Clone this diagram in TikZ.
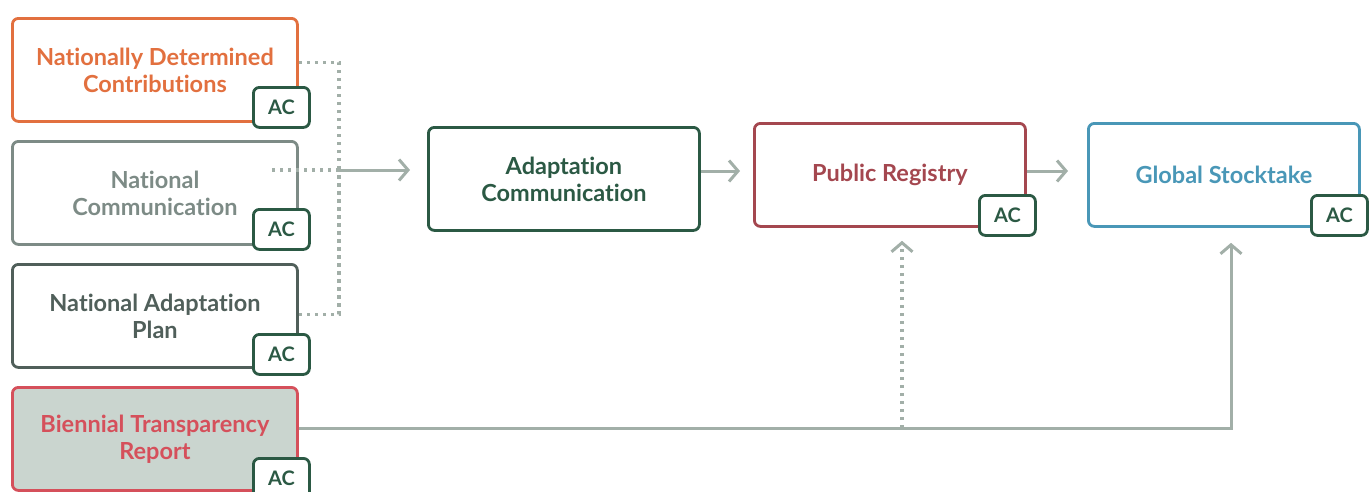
\documentclass[tikz,border=0pt]{standalone}
\usepackage{fontspec}
\setmainfont{Lato}[Ligatures=NoCommon]
\usetikzlibrary{arrows.meta}
\definecolor{ndcc}{HTML}{E2703F}
\definecolor{ncc}{HTML}{7D8B86}
\definecolor{napc}{HTML}{505F5A}
\definecolor{btrc}{HTML}{D5505B}
\definecolor{btrfill}{HTML}{CAD5CF}
\definecolor{acc}{HTML}{2B5944}
\definecolor{prc}{HTML}{A4474F}
\definecolor{gstc}{HTML}{4997B7}
\definecolor{linec}{HTML}{A2AFA8}
\tikzset{
  box/.style={draw, rounded corners=6pt, line width=2.8pt, anchor=north west, align=center,
    inner sep=0pt, font=\bfseries\fontsize{23.5}{27}\selectfont},
  leftbox/.style={box, minimum width=285pt, minimum height=103pt},
  rightbox/.style={box, minimum width=271pt, minimum height=103pt},
  acbox/.style={draw=acc, fill=white, text=acc, rounded corners=6pt, line width=2.8pt,
    anchor=north west, minimum width=56pt, minimum height=40pt, inner sep=0pt,
    font=\bfseries\fontsize{20}{20}\selectfont},
  conn/.style={draw=linec, line width=3pt, -{Straight Barb[length=9pt,width=21pt,line width=3pt]}},
  plainconn/.style={draw=linec, line width=3pt},
  dotconn/.style={draw=linec, line width=3.2pt, dash pattern=on 3.2pt off 4.8pt},
}
\begin{document}
\begin{tikzpicture}[x=1pt,y=-1pt]
\useasboundingbox (0,0) rectangle (1372,491);
% left column
\node[leftbox, draw=ndcc, text=ndcc] (ndc) at (11,17) {Nationally Determined\\Contributions};
\node[leftbox, draw=ncc, text=ncc] (nc) at (11,140) {National\\Communication};
\node[leftbox, draw=napc, text=napc] (nap) at (11,263) {National Adaptation\\Plan};
\node[leftbox, draw=btrc, fill=btrfill, text=btrc] (btr) at (11,386) {Biennial Transparency\\Report};
% right boxes
\node[rightbox, draw=acc, text=acc] (adc) at (427,126) {Adaptation\\Communication};
\node[rightbox, draw=prc, text=prc] (pr) at (753,122) {Public Registry};
\node[rightbox, draw=gstc, text=gstc] (gst) at (1087,122) {Global Stocktake};
% coordinates
\coordinate (m) at (339,170);
\coordinate (ncs) at (272,170);
\coordinate (row) at (0,171);
\coordinate (btrrow) at (0,428);
\coordinate (jpr) at (902,428);
\coordinate (jgst) at (1231,428);
% connectors
\draw[dotconn] ([yshift=7.5pt]ndc.east) -| (m);
\draw[dotconn] ([yshift=1.5pt]nap.east) -| (m);
\draw[dotconn] (ncs) -- (m);
\draw[conn, shorten >=17pt] (m) -- (m -| adc.west);
\draw[conn, shorten >=13pt] (adc.east |- row) -- (pr.west |- row);
\draw[conn, shorten >=19pt] (pr.east |- row) -- (gst.west |- row);
\draw[plainconn] (btr.east |- btrrow) -- (jpr);
\draw[conn, shorten >=15pt] (jpr) -- (jgst) -- (gst.south -| jgst);
\draw[dotconn, -{Straight Barb[length=9pt,width=21pt,line width=3pt]}, shorten >=13pt] (jpr) -- (pr.south -| jpr);
% AC badges
\node[acbox] (ac1) at (252,86) {AC};
\node[acbox] (ac2) at (252,208) {AC};
\node[acbox] (ac3) at (252,333) {AC};
\node[acbox] (ac4) at (252,457) {AC};
\node[acbox] (ac5) at (978,194) {AC};
\node[acbox] (ac6) at (1310,194) {AC};
\end{tikzpicture}
\end{document}
